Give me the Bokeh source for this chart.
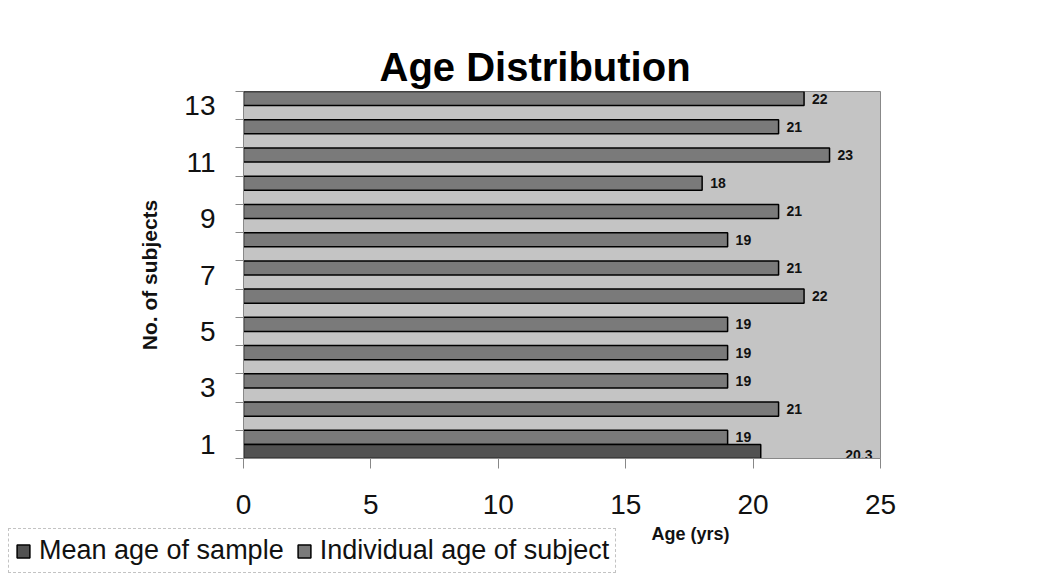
from bokeh.plotting import figure
from bokeh.layouts import column
from bokeh.models import (ColumnDataSource, FixedTicker, Label, Legend, LegendItem, Range1d)
from bokeh.core.properties import value
from bokeh.embed import file_html
from bokeh.resources import INLINE

# ---- data ----
subjects = list(range(1, 14))
individual_age = [19, 21, 19, 19, 19, 22, 21, 19, 21, 18, 23, 21, 22]
mean_subject = [1]
mean_age = [20.3]
x_ticks = [0, 5, 10, 15, 20, 25]
y_label_ticks = [1, 3, 5, 7, 9, 11, 13]
series_names = ["Mean age of sample", "Individual age of subject"]
series_colors = ["#525252", "#7a7a7a"]

FONT = "Liberation Sans"

p = figure(width=1041, height=519, output_backend="svg", toolbar_location=None,
           x_range=Range1d(0, 25), y_range=Range1d(0.5, 13.5),
           frame_width=637, frame_height=367,
           min_border_left=243, min_border_right=161, min_border_top=91, min_border_bottom=61)
p.background_fill_color = "#c4c4c4"
p.border_fill_color = "white"
p.outline_line_color = "#888888"
p.grid.visible = False

# title
p.title.text = "Age Distribution"
p.title.align = "left"
p.title.offset = 136
p.title.text_font = FONT
p.title.text_font_style = "bold"
p.title.text_font_size = "40px"
p.title.text_color = "black"
p.title.standoff = 5

ind_src = ColumnDataSource(dict(y=[s + 0.25 for s in subjects], x=individual_age,
                                lab=[str(v) for v in individual_age]))
mean_src = ColumnDataSource(dict(y=[s - 0.25 for s in mean_subject], x=mean_age,
                                 lab=[str(v) for v in mean_age]))

p.hbar(y="y", right="x", left=0, height=0.5, source=ind_src,
       fill_color=series_colors[1], line_color="black", line_width=1.5)
p.hbar(y="y", right="x", left=0, height=0.5, source=mean_src,
       fill_color=series_colors[0], line_color="black", line_width=1.5)

p.text(x="x", y="y", text="lab", source=ind_src, x_offset=8,
       text_font=value(FONT), text_font_style="bold", text_font_size="14px",
       text_baseline="middle", text_align="left", text_color="#111111")
mean_lab_src = ColumnDataSource(dict(x=[25] * len(mean_age), y=[s - 0.25 for s in mean_subject],
                                     lab=[str(v) for v in mean_age]))
p.text(x="x", y="y", text="lab", source=mean_lab_src, x_offset=-8, y_offset=4,
       text_font=value(FONT), text_font_style="bold", text_font_size="14px",
       text_baseline="middle", text_align="right", text_color="#111111")

# axes
xa = p.xaxis[0]
xa.ticker = FixedTicker(ticks=x_ticks, minor_ticks=[])
xa.major_label_text_font = FONT
xa.major_label_text_font_size = "28px"
xa.major_label_text_color = "#111111"
xa.major_tick_out = 10
xa.major_tick_in = 0
xa.major_tick_line_color = "#888888"
xa.axis_line_color = "#888888"
xa.major_label_standoff = 26

ya = p.yaxis[0]
ya.ticker = FixedTicker(ticks=y_label_ticks, minor_ticks=[k + 0.5 for k in range(0, 14)])
ya.major_label_text_font = FONT
ya.major_label_text_font_size = "28px"
ya.major_label_text_color = "#111111"
ya.major_tick_out = 0
ya.major_tick_in = 0
ya.minor_tick_out = 8
ya.minor_tick_in = 0
ya.minor_tick_line_color = "#888888"
ya.axis_line_color = "#888888"
ya.major_label_standoff = 20
ya.axis_label = "No. of subjects"
ya.axis_label_text_font = FONT
ya.axis_label_text_font_style = "bold"
ya.axis_label_text_font_size = "21px"
ya.axis_label_text_color = "#111111"
ya.axis_label_standoff = 20

# ---- strip below: legend and x-axis title ----
p2 = figure(width=1041, height=55, output_backend="svg", toolbar_location=None,
            x_range=Range1d(0, 1041), y_range=Range1d(1, 56),
            x_axis_location=None, y_axis_location=None,
            min_border_left=0, min_border_right=0, min_border_top=0, min_border_bottom=0)
p2.frame_align = False
p2.background_fill_color = "white"
p2.border_fill_color = "white"
p2.outline_line_color = None
p2.grid.visible = False

# legend proxies (zero-size, outside the strip's visible range)
leg_r = [p2.hbar(y="y", right="right", left="left", height=0,
                 source=ColumnDataSource(dict(y=[0], right=[0], left=[0])),
                 fill_color=c, line_color="black", line_width=1.5) for c in series_colors]

legend = Legend(items=[LegendItem(label=n, renderers=[r]) for n, r in zip(series_names, leg_r)],
                orientation="horizontal", location=(8, 1))
legend.label_text_font = FONT
legend.label_text_font_size = "27px"
legend.label_text_color = "#111111"
legend.glyph_width = 16
legend.glyph_height = 16
legend.label_standoff = 8
legend.spacing = 12
legend.padding = 6
legend.margin = 0
legend.border_line_color = "#888888"
legend.border_line_dash = "dotted"
legend.background_fill_color = "white"
legend.background_fill_alpha = 1
p2.add_layout(legend, "center")

p2.add_layout(Label(x=690, y=41, x_units="screen", y_units="screen", text="Age (yrs)",
                    text_font=FONT, text_font_style="bold", text_font_size="18px",
                    text_align="center", text_baseline="alphabetic", text_color="#111111"))

layout = column(p, p2, spacing=0)
open("out.html", "w").write(file_html(layout, INLINE))
